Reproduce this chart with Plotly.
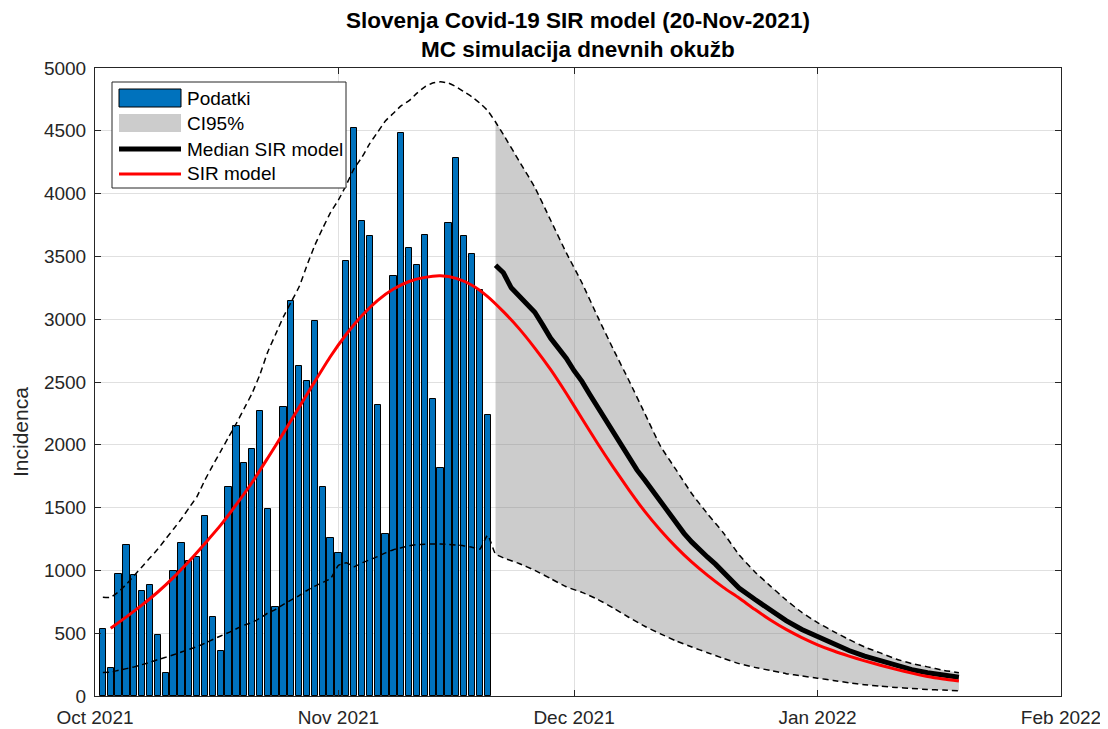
import pandas as pd
import plotly.graph_objects as go

# ---------------- data ----------------
start_date = pd.Timestamp("2021-10-01")

# daily reported cases (Podatki), one per day from 2-Oct-2021 to 20-Nov-2021
case_days = list(range(1, 51))
cases = [531, 220, 974, 1205, 966, 839, 881, 483, 180, 998,
         1221, 1077, 1107, 1436, 627, 358, 1667, 2152, 1853, 1969,
         2269, 1491, 706, 2298, 3142, 2629, 2509, 2988, 1662, 1261,
         1140, 3467, 4524, 3781, 3662, 2320, 1287, 3347, 4479, 3563,
         3434, 3671, 2368, 1817, 3766, 4281, 3659, 3521, 3234, 2240]

# SIR model (red), days after 1-Oct-2021
sir_days = [2, 4, 6, 8, 10, 12, 14, 16, 18, 20, 22, 24, 26, 28, 30, 32, 34, 36, 38, 40,
            42, 44, 46, 48, 50, 52, 54, 56, 58, 60, 62, 64, 66, 68, 70, 72, 74, 76, 78, 80,
            82, 84, 86, 88, 90, 92, 94, 96, 98, 100, 102, 104, 106, 108, 110]
sir_vals = [540, 630, 725, 828, 945, 1075, 1215, 1360, 1525, 1700, 1895, 2095, 2300, 2505, 2705, 2880, 3030, 3150, 3240, 3300,
            3333, 3345, 3325, 3270, 3180, 3060, 2925, 2770, 2600, 2410, 2210, 2010, 1820, 1640, 1470, 1320, 1185, 1065, 960, 865,
            780, 690, 605, 530, 465, 408, 360, 318, 280, 245, 212, 182, 155, 135, 119]

# Median SIR model (black)
med_days = [51, 52, 53, 54, 55, 56, 57, 58, 59, 60, 61, 62, 63, 64, 65, 66, 67, 68, 69, 70,
            71, 72, 73, 74, 75, 76, 77, 78, 79, 80, 81, 82, 84, 86, 88, 90, 92, 94, 96, 98,
            100, 102, 104, 106, 108, 110]
med_vals = [3430, 3370, 3250, 3180, 3125, 3055, 2955, 2850, 2770, 2690, 2590, 2505, 2400, 2300, 2195, 2105, 2000, 1890, 1800, 1720,
            1635, 1545, 1465, 1375, 1295, 1225, 1160, 1105, 1050, 985, 924, 860, 770, 680, 600, 530, 472, 412, 362, 318,
            280, 242, 210, 185, 164, 149]

# 95% confidence band (dashed)
ci_days = [1, 2, 3, 4, 5, 6, 7, 8, 9, 10, 11, 12, 13, 14, 15, 16, 17, 18, 19, 20,
           21, 22, 23, 24, 25, 26, 27, 28, 29, 30, 31, 32, 33, 34, 35, 36, 37, 38, 39, 40,
           41, 42, 43, 44, 45, 46, 47, 48, 49, 50, 51, 52, 54, 56, 58, 60, 62, 64, 66, 68,
           70, 72, 74, 76, 78, 80, 82, 84, 86, 88, 90, 92, 94, 96, 98, 100, 102, 104, 106, 108, 110]
ci_upper = [786, 786, 830, 890, 960, 1030, 1100, 1170, 1250, 1330, 1410, 1500, 1590, 1720, 1836, 1948, 2060, 2170, 2290, 2410,
            2560, 2740, 2880, 3020, 3140, 3260, 3430, 3590, 3725, 3850, 3950, 4070, 4200, 4290, 4400, 4490, 4580, 4640, 4700, 4740,
            4800, 4850, 4880, 4890, 4880, 4850, 4810, 4770, 4720, 4660, 4570, 4470, 4260, 4050, 3790, 3530, 3290, 3020, 2760, 2510,
            2250, 1990, 1800, 1610, 1450, 1300, 1125, 990, 875, 765, 665, 585, 515, 450, 390, 343, 295, 258, 232, 205, 186]
ci_lower = [188, 190, 205, 218, 232, 250, 268, 290, 308, 328, 350, 372, 393, 420, 450, 478, 505, 535, 565, 585,
            620, 660, 690, 730, 765, 800, 840, 875, 905, 935, 1040, 1060, 1030, 1060, 1085, 1110, 1140, 1165, 1180, 1195,
            1205, 1208, 1210, 1210, 1207, 1202, 1195, 1185, 1170, 1280, 1130, 1100, 1055, 1000, 935, 870, 825, 770, 700, 625,
            555, 495, 438, 390, 345, 300, 258, 228, 203, 178, 160, 142, 124, 105, 90, 78, 68, 60, 52, 47, 42]
ci_band_start = 51

x_ticks = ["2021-10-01", "2021-11-01", "2021-12-01", "2022-01-01", "2022-02-01"]
x_tick_text = ["Oct 2021", "Nov 2021", "Dec 2021", "Jan 2022", "Feb 2022"]
y_ticks = list(range(0, 5001, 500))

title_lines = ["Slovenja Covid-19 SIR model (20-Nov-2021)", "MC simulacija dnevnih okužb"]
legend_labels = ["Podatki", "CI95%", "Median SIR model", "SIR model"]
y_label = "Incidenca"

# ---------------- styling ----------------
OFF = 8                      # default page margin of the HTML body
W, H = 1108 - OFF, 729 - OFF
# plot area in window pixels: x 95..1061, y 68..696
ML, MT = 95 - OFF, 68 - OFF
MR, MB = W - (1061 - OFF), H - (696 - OFF)
PW, PH = W - ML - MR, H - MT - MB
FONT = "Liberation Sans, Arial, Helvetica, sans-serif"
AX = "#262626"
BAR_C = "#0072BD"
BAND_C = "rgba(128,128,128,0.4)"
DASH = "6px,4px"


def to_dates(days):
    return [start_date + pd.Timedelta(days=d) for d in days]


def px_x(px):
    return (px - 95) / PW


def px_y(py):
    return (696 - py) / PH


band_days = [d for d in ci_days if d >= ci_band_start]
band_up = [u for d, u in zip(ci_days, ci_upper) if d >= ci_band_start]
band_lo = [l for d, l in zip(ci_days, ci_lower) if d >= ci_band_start]

fig = go.Figure()

fig.add_trace(go.Bar(
    x=to_dates(case_days), y=cases, name=legend_labels[0],
    marker=dict(color=BAR_C, line=dict(color="#000000", width=1)),
    width=0.8 * 86400000, showlegend=False,
))

fig.add_trace(go.Scatter(
    x=to_dates(band_days + band_days[::-1]), y=band_up + band_lo[::-1],
    fill="toself", fillcolor=BAND_C, mode="none",
    name=legend_labels[1], hoverinfo="skip", showlegend=False,
))

for arr in (ci_upper, ci_lower):
    fig.add_trace(go.Scatter(
        x=to_dates(ci_days), y=arr, mode="lines", showlegend=False,
        line=dict(color="black", width=1.5, dash=DASH, shape="spline", smoothing=0.5),
    ))

fig.add_trace(go.Scatter(
    x=to_dates(med_days), y=med_vals, mode="lines", name=legend_labels[2],
    line=dict(color="black", width=5), showlegend=False,
))

fig.add_trace(go.Scatter(
    x=to_dates(sir_days), y=sir_vals, mode="lines", name=legend_labels[3],
    line=dict(color="#ff0000", width=3, shape="spline", smoothing=0.6), showlegend=False,
))

# ---------------- legend (drawn as layout shapes, matching MATLAB look) ----------------
shapes = []
annotations = []
shapes.append(dict(type="rect", xref="paper", yref="paper", layer="above",
                   x0=px_x(112), x1=px_x(346), y0=px_y(188), y1=px_y(82),
                   fillcolor="white", line=dict(color=AX, width=1)))
shapes.append(dict(type="rect", xref="paper", yref="paper", layer="above",
                   x0=px_x(119), x1=px_x(181), y0=px_y(107), y1=px_y(89),
                   fillcolor=BAR_C, line=dict(color="black", width=1)))
shapes.append(dict(type="rect", xref="paper", yref="paper", layer="above",
                   x0=px_x(119), x1=px_x(181), y0=px_y(132), y1=px_y(114),
                   fillcolor="#cccccc", line=dict(width=0)))
shapes.append(dict(type="line", xref="paper", yref="paper", layer="above",
                   x0=px_x(119), x1=px_x(181), y0=px_y(149), y1=px_y(149),
                   line=dict(color="black", width=5)))
shapes.append(dict(type="line", xref="paper", yref="paper", layer="above",
                   x0=px_x(119), x1=px_x(181), y0=px_y(174), y1=px_y(174),
                   line=dict(color="#ff0000", width=3)))
for lab, yc in zip(legend_labels, [98, 123, 149, 174]):
    annotations.append(dict(text=lab, xref="paper", yref="paper", x=px_x(185), y=px_y(yc),
                            xanchor="left", yanchor="middle", showarrow=False,
                            font=dict(size=19, color="#000000", family=FONT)))

for line, yc in zip(title_lines, [20, 50]):
    annotations.append(dict(text="<b>" + line + "</b>", xref="paper", yref="paper",
                            x=0.5, y=px_y(yc), xanchor="center", yanchor="middle",
                            showarrow=False, font=dict(size=22.5, color="#000000", family=FONT)))

annotations.append(dict(text=y_label, xref="paper", yref="paper", x=px_x(20), y=px_y(432),
                        xanchor="center", yanchor="middle", textangle=-90, showarrow=False,
                        font=dict(size=21, color=AX, family=FONT)))

fig.update_layout(
    width=W, height=H,
    margin=dict(l=ML, r=MR, t=MT, b=MB, autoexpand=False),
    paper_bgcolor="white", plot_bgcolor="white",
    font=dict(family=FONT, color=AX),
    bargap=0,
    showlegend=False,
    shapes=shapes,
    annotations=annotations,
)

fig.update_xaxes(
    type="date", automargin=False,
    range=[pd.Timestamp(x_ticks[0]), pd.Timestamp(x_ticks[-1])],
    tickmode="array", tickvals=[pd.Timestamp(t) for t in x_ticks], ticktext=x_tick_text,
    ticks="inside", ticklen=6, tickcolor=AX,
    showline=True, linecolor=AX, linewidth=1, mirror="ticks",
    showgrid=True, gridcolor="#e0e0e0", gridwidth=1, zeroline=False,
    tickfont=dict(size=19, color=AX, family=FONT),
    ticklabelstandoff=4,
)
fig.update_yaxes(
    range=[0, 5000], tickmode="array", tickvals=y_ticks, automargin=False,
    ticks="inside", ticklen=6, tickcolor=AX,
    showline=True, linecolor=AX, linewidth=1, mirror="ticks",
    showgrid=True, gridcolor="#e0e0e0", gridwidth=1, zeroline=False,
    tickfont=dict(size=19, color=AX, family=FONT),
    ticklabelstandoff=4,
)

fig.write_html("out.html")
